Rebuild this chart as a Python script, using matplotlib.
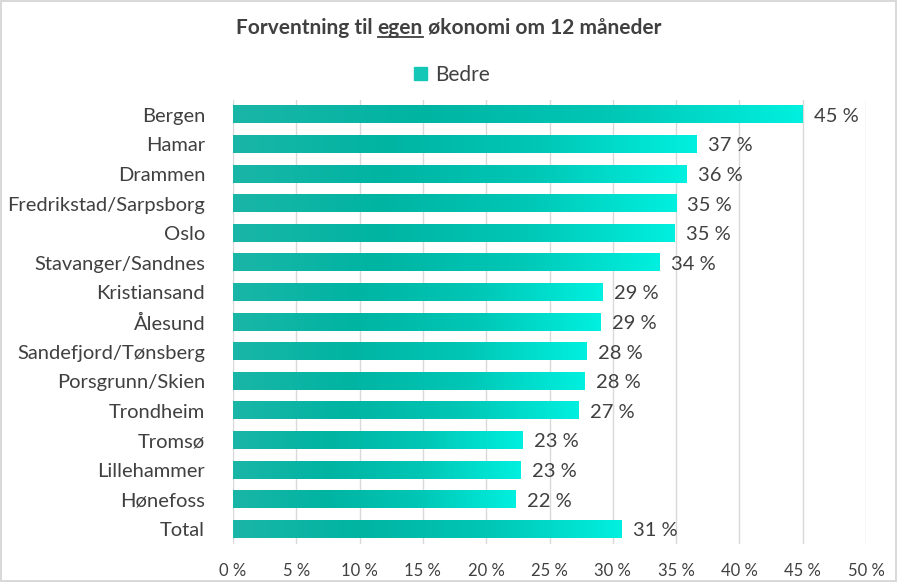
import numpy as np
import matplotlib
matplotlib.use("Agg")
import matplotlib.pyplot as plt
from matplotlib.colors import LinearSegmentedColormap
from matplotlib.patches import Rectangle
from matplotlib.lines import Line2D

plt.rcParams["font.family"] = ["Lato", "DejaVu Sans"]

cities = ["Bergen", "Hamar", "Drammen", "Fredrikstad/Sarpsborg", "Oslo",
          "Stavanger/Sandnes", "Kristiansand", "Ålesund", "Sandefjord/Tønsberg",
          "Porsgrunn/Skien", "Trondheim", "Tromsø", "Lillehammer", "Hønefoss", "Total"]
bedre = [45.0, 36.6, 35.8, 35.0, 34.9, 33.7, 29.2, 29.0, 27.9, 27.8, 27.3,
         22.9, 22.7, 22.3, 30.7]
labels = ["45 %", "37 %", "36 %", "35 %", "35 %", "34 %", "29 %", "29 %",
          "28 %", "28 %", "27 %", "23 %", "23 %", "22 %", "31 %"]
ticks = [0, 5, 10, 15, 20, 25, 30, 35, 40, 45, 50]

TEXT = "#404040"
grad = LinearSegmentedColormap.from_list(
    "bar", ["#1AB6A7", "#00B4A2", "#00C7B6", "#00F0DF"], N=256)

fig = plt.figure(figsize=(8.97, 5.82), dpi=100)
fig.patch.set_edgecolor("#D9D9D9")
fig.patch.set_linewidth(1.5)
ax = fig.add_axes([233 / 897, 1 - 544 / 582, (866 - 233) / 897, 444 / 582])

bar_h = 0.58
ypos = np.arange(len(cities))
bars = ax.barh(ypos, bedre, height=bar_h, color="none")
g = np.linspace(0, 1, 256).reshape(1, -1)
for b, v, lab in zip(bars, bedre, labels):
    x0, y0 = b.get_x(), b.get_y()
    w, h = b.get_width(), b.get_height()
    ax.imshow(g, cmap=grad, aspect="auto", extent=[x0, x0 + w, y0 + h, y0],
              zorder=2, interpolation="bicubic")
    ax.text(v + 0.9, b.get_y() + h / 2 + 0.05, lab, va="center", ha="left",
            fontsize=14.5, color=TEXT)

ax.set_xlim(0, 50)
ax.set_ylim(len(cities) - 0.5, -0.5)
ax.set_xticks(ticks)
ax.set_xticklabels([f"{t} %" for t in ticks], fontsize=12, color=TEXT)
ax.set_yticks(ypos)
ax.set_yticklabels(cities, fontsize=14.5, color=TEXT)
ax.tick_params(length=0)
ax.tick_params(axis="y", pad=20)
ax.tick_params(axis="x", pad=14)
ax.grid(axis="x", color="#D9D9D9", linewidth=1, zorder=0)
ax.set_axisbelow(True)
for s in ax.spines.values():
    s.set_visible(False)

# legend
fig.legend(handles=[Rectangle((0, 0), 1, 1, color="#14C7B6")], labels=["Bedre"],
           loc="center", bbox_to_anchor=(452 / 897, 1 - 75 / 582), frameon=False,
           fontsize=15, handlelength=0.6, handleheight=0.6, handletextpad=0.4,
           labelcolor=TEXT)

# title with underlined word
ty = 1 - 28 / 582
parts = ["Forventning til ", "egen", " økonomi om 12 måneder"]
texts = []
for p in parts:
    t = fig.text(0, ty, p, fontsize=15, fontweight="bold", color=TEXT, va="center")
    texts.append(t)
fig.canvas.draw()
r = fig.canvas.get_renderer()
widths = [t.get_window_extent(r).width for t in texts]
x = (897 / 2 - sum(widths) / 2)
for t, w in zip(texts, widths):
    t.set_x(x / 897)
    x += w
fig.canvas.draw()
bb = texts[1].get_window_extent(r)
uy = (bb.y0 + 1) / 582
fig.add_artist(Line2D([bb.x0 / 897, bb.x1 / 897], [uy, uy], color=TEXT, linewidth=1.3,
                      transform=fig.transFigure))

fig.savefig("out.png", dpi=100)
